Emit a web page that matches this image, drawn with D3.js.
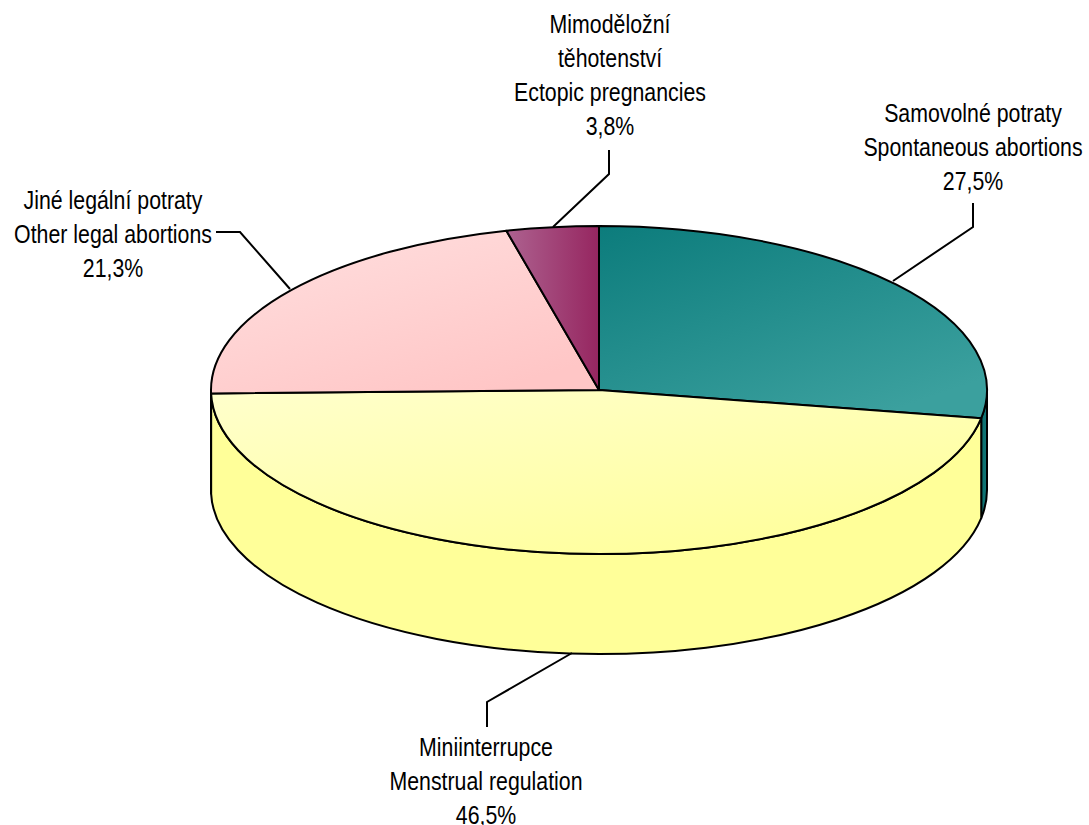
<!DOCTYPE html>
<html>
<head>
<meta charset="utf-8">
<script src="https://cdn.jsdelivr.net/npm/d3@7"></script>
<style>
  body { margin: 0; background: #fff; }
  text { font-family: "Liberation Sans", Arial, sans-serif; font-size: 26px; fill: #000; }
</style>
</head>
<body>
<div class="chart"></div>
<script>
// data
const labelsCz = ['Samovolné potraty', 'Miniinterrupce', 'Jiné legální potraty', 'Mimoděložní těhotenství']
const labelsEn = ['Spontaneous abortions', 'Menstrual regulation', 'Other legal abortions', 'Ectopic pregnancies']
const values = [27.5, 46.5, 21.3, 3.8]
const valueLabels = ['27,5%', '46,5%', '21,3%', '3,8%']

const width = 1089, height = 825
const cx = 599, cy = 390, rx = 388, ry = 164, depth = 100

const topColors = [['#0c7c7c', '#3ba09e'], ['#ffffcc', '#ffff9c'], ['#ffe0e0', '#ffc6c6'], ['#ad6290', '#962660']]
const sideColors = ['#0f7272', '#ffff99', '#ffc6c6', '#962660']

const svg = d3.select('.chart').append('svg')
  .attr('width', width)
  .attr('height', height)

const defs = svg.append('defs')
topColors.forEach((c, i) => {
  const g = defs.append('linearGradient')
    .attr('id', 'g' + i)
    .attr('x1', 0).attr('y1', 0)
    .attr('x2', i == 3 ? 1 : 0.7).attr('y2', i == 3 ? 0 : 1)
  g.append('stop').attr('offset', '0%').attr('stop-color', c[0])
  g.append('stop').attr('offset', '100%').attr('stop-color', c[1])
})

const pie = d3.pie().sort(null).value(d => d)
const arcs = pie(values)

function pt(a, dy) {
  return [cx + rx * Math.sin(a), cy - ry * Math.cos(a) + (dy || 0)]
}

function topPath(d) {
  const p0 = pt(d.startAngle), p1 = pt(d.endAngle)
  const large = d.endAngle - d.startAngle > Math.PI ? 1 : 0
  return `M${cx},${cy}L${p0}A${rx},${ry} 0 ${large} 1 ${p1}Z`
}

function sidePath(d) {
  const s = Math.max(d.startAngle, Math.PI / 2)
  const e = Math.min(d.endAngle, Math.PI * 1.5)
  if (e <= s) return null
  const large = e - s > Math.PI ? 1 : 0
  return `M${pt(s)}A${rx},${ry} 0 ${large} 1 ${pt(e)}L${pt(e, depth)}A${rx},${ry} 0 ${large} 0 ${pt(s, depth)}Z`
}

const pieG = svg.append('g')

pieG.selectAll('.side')
  .data(arcs.filter(d => sidePath(d)))
  .enter()
  .append('path')
  .attr('class', 'side')
  .attr('d', sidePath)
  .attr('fill', d => sideColors[d.index])
  .attr('stroke', '#000')
  .attr('stroke-width', 2)
  .attr('stroke-linejoin', 'round')

pieG.selectAll('.top')
  .data(arcs)
  .enter()
  .append('path')
  .attr('class', 'top')
  .attr('d', topPath)
  .attr('fill', d => 'url(#g' + d.index + ')')
  .attr('stroke', '#000')
  .attr('stroke-width', 2)
  .attr('stroke-linejoin', 'round')

// leader lines and labels
const leaders = [
  [[893, 281], [973, 227], [973, 203]],
  [[572, 653], [487, 702], [487, 727]],
  [[290, 289], [240, 232], [216, 232]],
  [[553, 227], [609, 174], [609, 150]]
]
const labelPos = [
  {x: 973, y: 122.5},
  {x: 486, y: 756.5},
  {x: 113, y: 209},
  {x: 610, y: 33}
]
const lineH = 34

svg.selectAll('.leader')
  .data(leaders)
  .enter()
  .append('path')
  .attr('class', 'leader')
  .attr('d', d3.line())
  .attr('fill', 'none')
  .attr('stroke', '#000')
  .attr('stroke-width', 2)

// narrow face is not installed, so squeeze Liberation Sans horizontally
arcs.forEach((d, i) => {
  let lines
  if (i == 3) lines = ['Mimoděložní', 'těhotenství', labelsEn[i], valueLabels[i]]
  else lines = [labelsCz[i], labelsEn[i], valueLabels[i]]
  const t = svg.append('text')
    .attr('text-anchor', 'middle')
    .attr('transform', `translate(${labelPos[i].x},0) scale(0.82,1)`)
  lines.forEach((l, j) => {
    t.append('tspan')
      .attr('x', 0)
      .attr('y', labelPos[i].y + j * lineH)
      .text(l)
  })
})
</script>
</body>
</html>
